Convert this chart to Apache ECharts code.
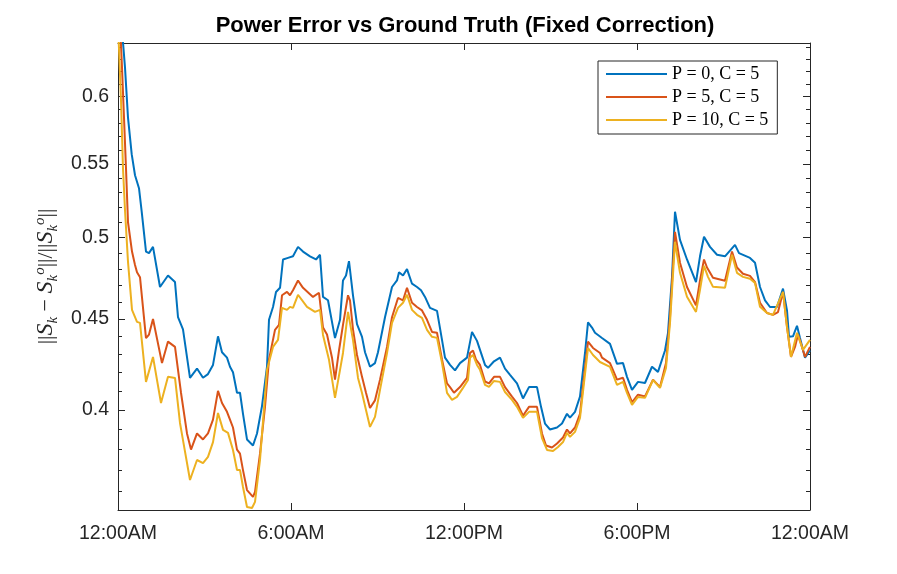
<!DOCTYPE html>
<html>
<head>
<meta charset="utf-8">
<script src="https://cdn.jsdelivr.net/npm/echarts@6/dist/echarts.min.js"></script>
<style>html,body{margin:0;padding:0;background:#fff;}#chart{width:897px;height:574px;}</style>
</head>
<body>
<div id="chart"></div>
<script>
// ---- Data: [hour of day, relative error] ----
const seriesNames = ['P = 0, C = 5', 'P = 5, C = 5', 'P = 10, C = 5'];
const seriesColors = ['#0072BD', '#D95319', '#EDB120'];

const errP0 = [[0,0.75],[0.104,0.665],[0.243,0.623],[0.347,0.584],[0.475,0.557],[0.590,0.542],[0.728,0.533],[0.822,0.517],[0.971,0.491],[1.075,0.490],[1.214,0.494],[1.457,0.469],[1.734,0.476],[1.977,0.472],[2.081,0.451],[2.254,0.444],[2.497,0.417],[2.740,0.422],[2.948,0.417],[3.121,0.419],[3.295,0.424],[3.468,0.440],[3.607,0.431],[3.780,0.428],[3.884,0.423],[3.988,0.420],[4.127,0.409],[4.231,0.409],[4.335,0.398],[4.474,0.385],[4.682,0.382],[4.821,0.388],[4.994,0.402],[5.168,0.423],[5.237,0.4495],[5.376,0.457],[5.480,0.466],[5.619,0.4685],[5.723,0.486],[5.896,0.487],[5.965,0.486],[6.069,0.488],[6.243,0.494],[6.416,0.491],[6.659,0.488],[6.867,0.486],[7.006,0.489],[7.110,0.463],[7.283,0.461],[7.526,0.439],[7.700,0.4495],[7.803,0.473],[7.908,0.476],[8.011,0.485],[8.150,0.464],[8.289,0.447],[8.463,0.4397],[8.567,0.431],[8.740,0.423],[8.913,0.425],[9.017,0.431],[9.260,0.451],[9.503,0.469],[9.676,0.473],[9.746,0.478],[9.885,0.476],[10.023,0.480],[10.197,0.471],[10.370,0.469],[10.509,0.467],[10.648,0.463],[10.821,0.4565],[11.064,0.4547],[11.237,0.438],[11.341,0.428],[11.515,0.424],[11.688,0.421],[11.861,0.425],[12.104,0.428],[12.278,0.4425],[12.451,0.4374],[12.729,0.424],[12.833,0.4224],[13.041,0.426],[13.249,0.428],[13.422,0.422],[13.596,0.4186],[13.838,0.414],[14.046,0.406],[14.254,0.412],[14.532,0.412],[14.671,0.4016],[14.809,0.393],[14.983,0.390],[15.226,0.391],[15.399,0.393],[15.572,0.398],[15.676,0.396],[15.850,0.399],[16.023,0.407],[16.197,0.4306],[16.301,0.448],[16.439,0.445],[16.543,0.442],[16.786,0.439],[17.064,0.4357],[17.307,0.4246],[17.515,0.425],[17.653,0.4175],[17.827,0.4105],[18.035,0.4148],[18.277,0.4142],[18.520,0.423],[18.728,0.4202],[18.971,0.432],[19.075,0.442],[19.214,0.475],[19.318,0.517],[19.491,0.4985],[19.734,0.486],[20.046,0.472],[20.185,0.488],[20.324,0.5005],[20.532,0.494],[20.775,0.489],[21.052,0.488],[21.399,0.4953],[21.538,0.490],[21.919,0.487],[22.093,0.484],[22.266,0.469],[22.440,0.461],[22.613,0.457],[22.855,0.457],[23.064,0.468],[23.202,0.455],[23.272,0.4397],[23.410,0.440],[23.549,0.446],[23.653,0.439],[23.827,0.428],[24.0,0.432]];

const errP5 = [[0,0.70],[0.139,0.623],[0.208,0.584],[0.277,0.547],[0.347,0.510],[0.486,0.491],[0.590,0.4826],[0.659,0.478],[0.763,0.475],[0.971,0.439],[1.075,0.441],[1.214,0.450],[1.526,0.425],[1.734,0.437],[1.977,0.434],[2.185,0.409],[2.393,0.388],[2.532,0.380],[2.740,0.388],[2.948,0.385],[3.121,0.388],[3.295,0.395],[3.468,0.410],[3.607,0.4036],[3.780,0.399],[3.884,0.395],[3.988,0.391],[4.127,0.380],[4.231,0.378],[4.335,0.370],[4.474,0.3606],[4.682,0.3574],[4.752,0.3597],[4.925,0.378],[5.098,0.4016],[5.237,0.427],[5.445,0.4437],[5.584,0.4466],[5.688,0.464],[5.861,0.466],[5.965,0.464],[6.069,0.467],[6.243,0.473],[6.416,0.4685],[6.763,0.463],[6.971,0.4655],[7.110,0.445],[7.249,0.441],[7.422,0.428],[7.526,0.416],[7.665,0.432],[7.803,0.4466],[7.977,0.464],[8.046,0.461],[8.150,0.444],[8.289,0.4295],[8.463,0.4175],[8.601,0.409],[8.740,0.401],[8.913,0.405],[9.087,0.416],[9.330,0.434],[9.503,0.451],[9.711,0.4624],[9.885,0.461],[10.023,0.4685],[10.197,0.4595],[10.370,0.457],[10.543,0.455],[10.717,0.4495],[10.890,0.4425],[11.064,0.442],[11.237,0.427],[11.411,0.414],[11.515,0.412],[11.653,0.409],[11.861,0.412],[12.104,0.417],[12.208,0.4306],[12.312,0.432],[12.416,0.427],[12.555,0.424],[12.729,0.415],[12.867,0.414],[13.041,0.4175],[13.249,0.4175],[13.422,0.412],[13.665,0.407],[13.838,0.4036],[14.046,0.397],[14.254,0.4016],[14.532,0.4016],[14.705,0.388],[14.844,0.382],[15.052,0.381],[15.226,0.383],[15.434,0.386],[15.572,0.390],[15.676,0.388],[15.850,0.391],[16.023,0.398],[16.162,0.4175],[16.301,0.437],[16.474,0.4334],[16.717,0.4306],[16.786,0.428],[17.064,0.425],[17.307,0.416],[17.515,0.417],[17.653,0.4105],[17.827,0.404],[18.035,0.408],[18.277,0.407],[18.555,0.416],[18.798,0.412],[19.006,0.425],[19.145,0.451],[19.318,0.5037],[19.491,0.484],[19.734,0.469],[20.046,0.458],[20.185,0.473],[20.324,0.486],[20.428,0.481],[20.636,0.4746],[21.052,0.4728],[21.295,0.491],[21.468,0.481],[21.676,0.4771],[21.919,0.4758],[22.093,0.472],[22.266,0.4595],[22.509,0.4535],[22.717,0.4524],[22.890,0.454],[23.064,0.466],[23.202,0.4454],[23.341,0.4284],[23.480,0.434],[23.584,0.441],[23.723,0.434],[23.827,0.4284],[24.0,0.434]];

const errP10 = [[0,0.66],[0.104,0.5977],[0.173,0.547],[0.243,0.518],[0.347,0.4845],[0.486,0.4553],[0.659,0.4483],[0.763,0.4477],[0.971,0.4148],[1.214,0.4284],[1.491,0.4036],[1.734,0.4175],[1.977,0.4169],[2.150,0.3933],[2.254,0.3847],[2.497,0.3653],[2.740,0.3749],[2.948,0.3734],[3.121,0.3764],[3.295,0.3837],[3.468,0.3984],[3.642,0.3898],[3.815,0.3883],[3.988,0.3798],[4.127,0.3701],[4.231,0.3701],[4.335,0.3620],[4.474,0.3528],[4.647,0.3523],[4.752,0.3551],[4.925,0.3749],[5.168,0.4213],[5.376,0.434],[5.549,0.438],[5.688,0.4565],[5.861,0.4553],[5.965,0.4571],[6.069,0.4565],[6.243,0.4643],[6.555,0.4571],[6.832,0.4541],[7.006,0.4553],[7.110,0.4408],[7.318,0.4268],[7.526,0.4063],[7.700,0.4213],[7.803,0.4306],[7.977,0.4541],[8.150,0.438],[8.324,0.4169],[8.463,0.4089],[8.601,0.400],[8.740,0.3913],[8.913,0.3964],[9.087,0.4105],[9.330,0.4306],[9.503,0.4477],[9.711,0.4565],[9.885,0.4595],[10.023,0.4643],[10.197,0.4553],[10.370,0.4524],[10.543,0.4506],[10.717,0.4437],[10.890,0.4397],[11.064,0.4391],[11.237,0.4251],[11.411,0.4089],[11.584,0.4052],[11.757,0.4068],[11.965,0.4116],[12.139,0.4158],[12.208,0.4279],[12.312,0.4295],[12.451,0.424],[12.555,0.4213],[12.729,0.4132],[12.867,0.4121],[13.041,0.4153],[13.249,0.4148],[13.422,0.4094],[13.665,0.4052],[13.838,0.4016],[14.046,0.3959],[14.254,0.399],[14.532,0.399],[14.705,0.3857],[14.879,0.3798],[15.087,0.3793],[15.260,0.3813],[15.434,0.3837],[15.572,0.3883],[15.676,0.3863],[15.850,0.3888],[16.023,0.3959],[16.162,0.4142],[16.301,0.4334],[16.474,0.4295],[16.717,0.4256],[16.786,0.4256],[17.064,0.4229],[17.307,0.4132],[17.515,0.4148],[17.653,0.4089],[17.827,0.4026],[18.035,0.4068],[18.277,0.4063],[18.555,0.4158],[18.798,0.4116],[19.006,0.4224],[19.145,0.4477],[19.318,0.4972],[19.491,0.4777],[19.734,0.4631],[20.046,0.4541],[20.185,0.4673],[20.324,0.482],[20.462,0.4752],[20.636,0.4691],[21.052,0.4685],[21.295,0.489],[21.468,0.4777],[21.676,0.4752],[21.919,0.474],[22.093,0.4715],[22.266,0.4571],[22.509,0.4535],[22.717,0.4524],[23.064,0.4661],[23.202,0.4454],[23.341,0.4284],[23.549,0.442],[23.757,0.4323],[24.0,0.438]];

const xTickLabels = ['12:00AM', '6:00AM', '12:00PM', '6:00PM', '12:00AM'];
const yMajorTicks = [0.4, 0.45, 0.5, 0.55, 0.6];
const yMinorTicks = [0.36,0.37,0.38,0.39,0.41,0.42,0.43,0.44,0.46,0.47,0.48,0.49,0.51,0.52,0.53,0.54,0.56,0.57,0.58,0.59,0.61,0.62,0.63,0.64];
const yRange = [0.3514, 0.6432];

const AX = '#262626';
const sansFont = 'Liberation Sans, Arial, Helvetica, sans-serif';
const serifFont = 'Liberation Serif, DejaVu Serif, serif';

function yAxisDef(position, tickVals, tickLen, showLine, showLabels, extra) {
  return Object.assign({
    type: 'log', logBase: 10, position: position,
    min: yRange[0], max: yRange[1],
    axisLine: { show: showLine, lineStyle: { color: AX, width: 1 } },
    axisTick: { show: true, inside: true, length: tickLen, customValues: tickVals, lineStyle: { color: AX, width: 1 } },
    axisLabel: showLabels ? { show: true, customValues: tickVals, formatter: v => String(+v.toFixed(2)), color: AX, fontSize: 19.5, fontFamily: sansFont, margin: 9 } : { show: false },
    splitLine: { show: false }, minorTick: { show: false }, minorSplitLine: { show: false }
  }, extra || {});
}

const chart = echarts.init(document.getElementById('chart'), null, { renderer: 'canvas' });
const allData = [errP0, errP5, errP10];

chart.setOption({
  animation: false,
  backgroundColor: '#ffffff',
  title: {
    text: 'Power Error vs Ground Truth (Fixed Correction)',
    left: 460, top: 10, textAlign: 'center',
    textStyle: { fontFamily: sansFont, fontSize: 22, fontWeight: 'bold', color: '#000' }
  },
  legend: {
    data: seriesNames, orient: 'vertical', left: 598, top: 61,
    backgroundColor: '#fff', borderColor: AX, borderWidth: 1, borderRadius: 0,
    padding: [4, 9, 5, 7], itemGap: 5, itemWidth: 61, itemHeight: 18,
    selectedMode: false,
    itemStyle: { opacity: 0 },
    lineStyle: { width: 2 },
    textStyle: { fontFamily: serifFont, fontSize: 18, color: '#000' }
  },
  grid: { left: 118, right: 87, top: 43, bottom: 64, containLabel: false },
  xAxis: [
    { type: 'value', position: 'bottom', min: 0, max: 24, interval: 6,
      axisLine: { lineStyle: { color: AX, width: 1 } },
      axisTick: { inside: true, length: 7, lineStyle: { color: AX } },
      axisLabel: { formatter: v => xTickLabels[Math.round(v / 6)], color: AX, fontSize: 19.5, fontFamily: sansFont, margin: 14 },
      splitLine: { show: false } },
    { type: 'value', position: 'top', min: 0, max: 24, interval: 6,
      axisLine: { lineStyle: { color: AX, width: 1 } },
      axisTick: { inside: true, length: 7, lineStyle: { color: AX } },
      axisLabel: { show: false }, splitLine: { show: false } }
  ],
  yAxis: [
    yAxisDef('left', yMajorTicks, 7, true, true, {
      name: '||{it|S}{sb|k} \u2212 {it|S}{sb|k}{sp|o}||/||{it|S}{sb|k}{sp|o}||',
      nameLocation: 'middle', nameRotate: 90, nameGap: 55,
      nameTextStyle: {
        fontFamily: serifFont, fontSize: 22, color: AX, lineHeight: 28,
        rich: {
          it: { fontFamily: serifFont, fontStyle: 'italic', fontSize: 24, color: AX },
          sb: { fontFamily: serifFont, fontStyle: 'italic', fontSize: 15, color: AX, verticalAlign: 'bottom', lineHeight: 15 },
          sp: { fontFamily: serifFont, fontStyle: 'italic', fontSize: 15, color: AX, verticalAlign: 'top', lineHeight: 15 }
        }
      }
    }),
    yAxisDef('left', yMinorTicks, 4, false, false),
    yAxisDef('right', yMajorTicks, 7, true, false),
    yAxisDef('right', yMinorTicks, 4, false, false)
  ],
  series: allData.map((d, i) => ({
    name: seriesNames[i], type: 'line', data: d,
    xAxisIndex: 0, yAxisIndex: 0,
    showSymbol: false, symbol: 'none', clip: true,
    lineStyle: { color: seriesColors[i], width: 2 },
    itemStyle: { color: seriesColors[i] },
    z: 2 + i
  }))
});
</script>
</body>
</html>
